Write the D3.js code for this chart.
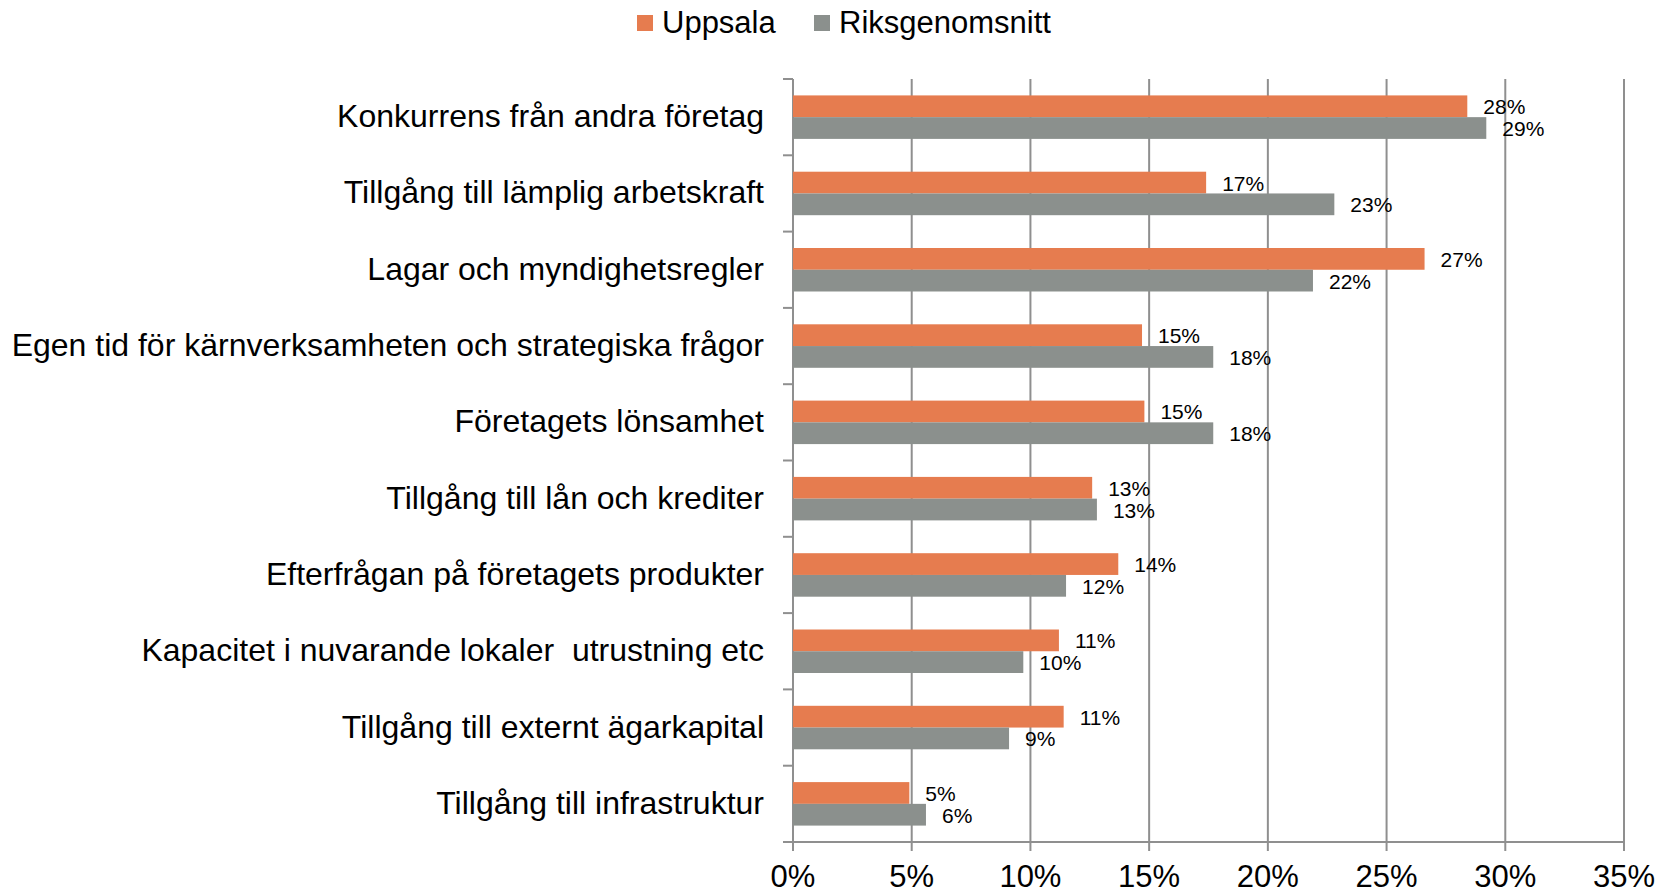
<!DOCTYPE html>
<html>
<head>
<meta charset="utf-8">
<script src="https://cdn.jsdelivr.net/npm/d3@7"></script>
<style>
  body { margin: 0; background: #fff; }
  svg { display: block; font-family: Arial, "Liberation Sans", sans-serif; }
  .cat-label { white-space: pre; }
</style>
</head>
<body>
<svg class="chart" width="1673" height="894"></svg>
<script>
var categories = [
  "Konkurrens från andra företag",
  "Tillgång till lämplig arbetskraft",
  "Lagar och myndighetsregler",
  "Egen tid för kärnverksamheten och strategiska frågor",
  "Företagets lönsamhet",
  "Tillgång till lån och krediter",
  "Efterfrågan på företagets produkter",
  "Kapacitet i nuvarande lokaler  utrustning etc",
  "Tillgång till externt ägarkapital",
  "Tillgång till infrastruktur"
];
var seriesNames = ["Uppsala", "Riksgenomsnitt"];
var uppsala = [28.4, 17.4, 26.6, 14.7, 14.8, 12.6, 13.7, 11.2, 11.4, 4.9];
var riks = [29.2, 22.8, 21.9, 17.7, 17.7, 12.8, 11.5, 9.7, 9.1, 5.6];
var xTicks = [0, 5, 10, 15, 20, 25, 30, 35];
var colors = ["#E67C4F", "#8B908D"];

var svg = d3.select(".chart");
var plotLeft = 793, plotRight = 1624, plotTop = 79, plotBottom = 842;

var x = d3.scaleLinear().domain([0, 35]).range([plotLeft, plotRight]);
var y = d3.scaleBand().domain(categories).range([plotTop, plotBottom])
  .paddingInner(0.43).paddingOuter(0.215);
var ySeries = d3.scaleBand().domain(seriesNames).range([0, y.bandwidth()]);

var rows = categories.map(function (c, i) {
  return { cat: c, values: [uppsala[i], riks[i]] };
});

// gridlines (they run past the axis as tick marks)
svg.append("g").selectAll("line").data(xTicks).enter().append("line")
  .attr("x1", function (d) { return x(d); })
  .attr("x2", function (d) { return x(d); })
  .attr("y1", plotTop).attr("y2", plotBottom + 9)
  .attr("stroke", "#8f8f8f").attr("stroke-width", 2);

// y axis ticks at band edges
var edges = d3.range(categories.length + 1).map(function (i) { return plotTop + i * y.step(); });
svg.append("g").selectAll("line").data(edges).enter().append("line")
  .attr("x1", plotLeft - 10).attr("x2", plotLeft)
  .attr("y1", function (d) { return d; })
  .attr("y2", function (d) { return d; })
  .attr("stroke", "#8f8f8f").attr("stroke-width", 2);

svg.append("line").attr("x1", plotLeft - 10).attr("x2", plotRight)
  .attr("y1", plotBottom).attr("y2", plotBottom)
  .attr("stroke", "#8f8f8f").attr("stroke-width", 2);

// bars
var groups = svg.append("g").selectAll("g").data(rows).enter().append("g")
  .attr("transform", function (d) { return "translate(0," + y(d.cat) + ")"; });

groups.selectAll("rect").data(function (d) { return d.values; }).enter().append("rect")
  .attr("x", x(0))
  .attr("y", function (d, i) { return ySeries(seriesNames[i]); })
  .attr("width", function (d) { return x(d) - x(0); })
  .attr("height", ySeries.bandwidth())
  .attr("fill", function (d, i) { return colors[i]; });

groups.selectAll("text").data(function (d) { return d.values; }).enter().append("text")
  .attr("x", function (d) { return x(d) + 16; })
  .attr("y", function (d, i) { return ySeries(seriesNames[i]) + ySeries.bandwidth() / 2 + 8; })
  .attr("font-size", 21)
  .attr("fill", "#000")
  .text(function (d) { return Math.round(d) + "%"; });

// category labels
svg.append("g").selectAll("text").data(categories).enter().append("text")
  .attr("class", "cat-label")
  .attr("x", plotLeft - 29)
  .attr("y", function (d) { return y(d) + y.bandwidth() / 2 + 10; })
  .attr("text-anchor", "end")
  .attr("font-size", 32)
  .attr("fill", "#000")
  .text(function (d) { return d; });

// x tick labels
svg.append("g").selectAll("text").data(xTicks).enter().append("text")
  .attr("x", function (d) { return x(d); })
  .attr("y", 887)
  .attr("text-anchor", "middle")
  .attr("font-size", 31)
  .attr("fill", "#000")
  .text(function (d) { return d + "%"; });

// legend
var legendX = [637, 814];
var legend = svg.append("g").selectAll("g").data(seriesNames).enter().append("g")
  .attr("transform", function (d, i) { return "translate(" + legendX[i] + ",0)"; });
legend.append("rect").attr("x", 0).attr("y", 15).attr("width", 16).attr("height", 16)
  .attr("fill", function (d, i) { return colors[i]; });
legend.append("text").attr("x", 25).attr("y", 33)
  .attr("font-size", 31).attr("fill", "#000")
  .text(function (d) { return d; });
</script>
</body>
</html>
